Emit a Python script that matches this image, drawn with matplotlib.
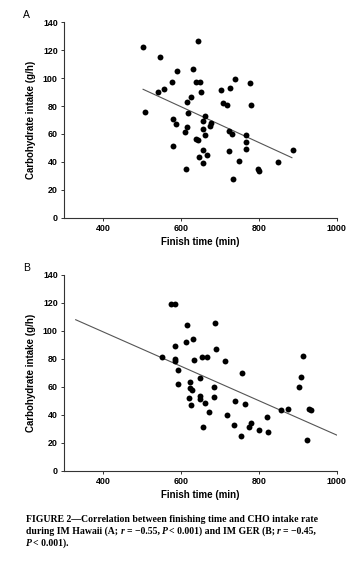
import numpy as np
import matplotlib
matplotlib.use("Agg")
import matplotlib.pyplot as plt
from matplotlib.text import Annotation

plt.rcParams['font.family'] = ['Liberation Sans', 'DejaVu Sans']

# Panel A: IM Hawaii (finish time in min, CHO intake in g/h)
time_a = [502, 546, 591, 630, 576, 557, 542, 507, 617, 627, 619, 579, 587, 617,
          610, 580, 614, 644, 638, 649, 651, 740, 725, 703, 709, 718, 778, 780,
          662, 657, 677, 675, 658, 663, 640, 644, 724, 731, 766, 767, 766, 656,
          647, 666, 658, 723, 748, 735, 797, 800, 849, 889]
cho_a = [122, 115, 105, 106.5, 97, 92, 90, 76, 83, 86.7, 75.3, 70.7, 67, 65,
         61.7, 51.4, 34.7, 126.5, 97.5, 97.5, 90.3, 99.6, 93, 91.5, 82, 81, 96.3, 81,
         73, 69, 67.7, 65.7, 63.8, 59.3, 56.4, 55.5, 62.4, 60, 59.3, 54, 49, 48.7,
         43.7, 44.7, 39, 47.6, 40.6, 28, 35, 33.5, 39.7, 48.7]
fit_a_x = [503, 885]
fit_a_y = [92, 43]

# Panel B: IM GER
time_b = [574, 585, 615, 614, 632, 585, 552, 585, 585, 633, 653, 666, 592, 593,
          648, 623, 624, 628, 621, 648, 649, 625, 663, 671, 657, 688, 690, 712,
          756, 685, 686, 739, 765, 718, 736, 754, 780, 775, 800, 913, 908, 902,
          858, 875, 930, 935, 822, 823, 925]
cho_b = [119.3, 119.3, 104.5, 92.1, 94, 89.2, 81.1, 80.1, 78.5, 79.2, 81.1, 81.1, 72, 62.3,
         66.1, 63.2, 59, 57.7, 52.2, 53.2, 51.3, 47, 48.2, 41.8, 31, 105.5, 87.3, 78.3,
         70.1, 60.1, 52.9, 50.1, 47.9, 39.9, 32.9, 25, 33.9, 31, 29.1, 82.3, 67.3, 59.9,
         43.2, 44.1, 43.9, 43.2, 38.2, 27.9, 22]
fit_b_x = [330, 1000]
fit_b_y = [108, 25.5]

W, H = 360, 566
fig = plt.figure(figsize=(W / 100, H / 100), dpi=100)

panels = [
    ("A", time_a, cho_a, fit_a_x, fit_a_y, 22.3, 217.7),
    ("B", time_b, cho_b, fit_b_x, fit_b_y, 275.0, 470.7),
]

for letter, tx, cy, fx, fy, top, bot in panels:
    ax = fig.add_axes([64 / W, 1 - bot / H, (336.7 - 64) / W, (bot - top) / H])
    ax.scatter(tx, cy, s=18, color='black', linewidths=0, zorder=3)
    ax.plot(fx, fy, color='#555555', lw=0.8, zorder=2)
    ax.set_xlim(300, 1000)
    ax.set_ylim(0, 140)
    ax.set_xticks([400, 600, 800, 1000])
    ax.set_yticks(range(0, 141, 20))
    for s in ['top', 'right']:
        ax.spines[s].set_visible(False)
    for s in ['left', 'bottom']:
        ax.spines[s].set_color('#333333')
        ax.spines[s].set_linewidth(0.8)
    ax.tick_params(axis='both', length=2.5, width=0.7, color='#333333',
                   labelsize=6.4, pad=2)
    for lab in ax.get_xticklabels() + ax.get_yticklabels():
        lab.set_fontweight('bold')
    ax.set_xlabel('Finish time (min)', fontsize=7, fontweight='bold', labelpad=3)
    ax.set_ylabel('Carbohydrate intake (g/h)', fontsize=7, fontweight='bold', labelpad=5)
    fig.text(23 / W, 1 - (top - 7) / H, letter, fontsize=7.5, ha='left', va='center')

# caption, written piece by piece so r and P can be italic
cap_kw = dict(fontsize=7, fontweight='bold', family='Liberation Serif')
sp = 1.75  # width of a space in points
cap_lines = [
    [("FIGURE 2\u2014Correlation between finishing time and CHO intake rate", 'normal', 0)],
    [("during IM Hawaii (A;", 'normal', 0), ("r", 'italic', sp), ("= \u22120.55,", 'normal', sp),
     ("P", 'italic', sp), ("< 0.001) and IM GER (B;", 'normal', 0.4), ("r", 'italic', sp),
     ("= \u22120.45,", 'normal', sp)],
    [("P", 'italic', 0), ("< 0.001).", 'normal', 0.4)],
]
cap_y = [522.5, 534, 545.5]
for pieces, yy in zip(cap_lines, cap_y):
    s0, st0, _ = pieces[0]
    t = fig.text(26 / W, 1 - yy / H, s0, style=st0, ha='left', va='baseline', **cap_kw)
    for s, st, gap in pieces[1:]:
        t = fig.add_artist(Annotation(s, xy=(1, 0), xycoords=t, xytext=(gap, 0),
                                      textcoords='offset points', ha='left', va='bottom',
                                      style=st, **cap_kw))

fig.savefig('out.png', dpi=100)
